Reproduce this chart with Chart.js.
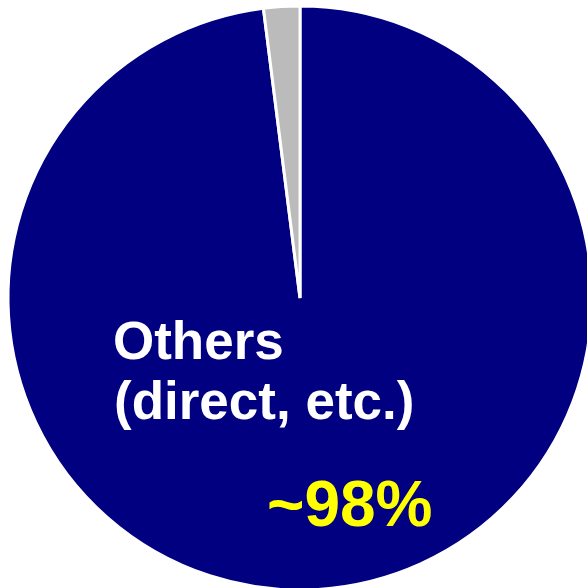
<!DOCTYPE html>
<html>
<head>
<meta charset="utf-8">
<script src="https://cdn.jsdelivr.net/npm/chart.js@4.4.1/dist/chart.umd.min.js"></script>
<style>
  html, body { margin: 0; padding: 0; background: #fff; overflow: hidden; }
  #wrap { position: absolute; left: 0; top: 0; }
</style>
</head>
<body>
<div id="wrap"><canvas id="pie" width="600" height="596"></canvas></div>
<script>
// --- Data ---
const sliceNames = ['Others (direct, etc.)', 'Rest'];
const sliceShares = [98, 2];
const sliceColors = ['#000080', '#BBBBBB'];

// Text drawn inside the big slice
const nameLines = ['Others', '(direct, etc.)'];
const shareText = '~' + sliceShares[0] + '%';

// Writes the slice name and its share on top of the pie
const sliceText = {
    id: 'sliceText',
    afterDatasetsDraw(chart) {
        const ctx = chart.ctx;
        const arc = chart.getDatasetMeta(0).data[0];
        const cx = arc.x, cy = arc.y;
        ctx.save();
        ctx.textAlign = 'left';
        ctx.textBaseline = 'alphabetic';

        ctx.fillStyle = '#FFFFFF';
        ctx.font = 'bold 53px "Liberation Sans", Arial, sans-serif';
        ctx.fillText(nameLines[0], cx - 187, cy + 61);
        ctx.fillText(nameLines[1], cx - 186, cy + 121);

        ctx.fillStyle = '#FFFF00';
        ctx.font = 'bold 64px "Liberation Sans", Arial, sans-serif';
        ctx.fillText(shareText, cx - 33, cy + 228);
        ctx.restore();
    }
};

new Chart(document.getElementById('pie'), {
    type: 'pie',
    data: {
        labels: sliceNames,
        datasets: [{
            data: sliceShares,
            backgroundColor: sliceColors,
            borderColor: '#FFFFFF',
            borderWidth: 3,
            radius: 292
        }]
    },
    options: {
        responsive: false,
        animation: false,
        rotation: 0,
        layout: { padding: 0 },
        plugins: {
            legend: { display: false },
            tooltip: { enabled: false }
        }
    },
    plugins: [sliceText]
});
</script>
</body>
</html>
